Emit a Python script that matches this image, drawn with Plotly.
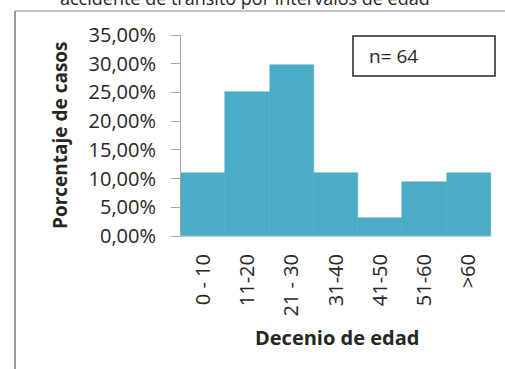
import plotly.graph_objects as go

# Share of cases per age decade (n = 64)
age_groups = ["0 - 10", "11-20", "21 - 30", "31-40", "41-50", "51-60", ">60"]
case_share = [0.1094, 0.25, 0.2969, 0.1094, 0.0313, 0.0938, 0.1094]
sample_label = "n= 64"

FONT = "Open Sans"
W, H = 505, 369
L, R, T, B = 181, 14, 35, 133

fig = go.Figure(
    go.Bar(
        x=age_groups,
        y=case_share,
        marker=dict(color="#4BACC6", line=dict(color="#4BACC6", width=0.5)),
        hoverinfo="x+y",
    )
)

fig.update_layout(
    width=W,
    height=H,
    margin=dict(l=L, r=R, t=T, b=B),
    paper_bgcolor="white",
    plot_bgcolor="white",
    bargap=0,
    separators=",.",
    showlegend=False,
    font=dict(family=FONT, color="#222222"),
)

fig.update_yaxes(
    range=[0, 0.35],
    dtick=0.05,
    tickformat=".2%",
    showgrid=False,
    zeroline=False,
    showline=True,
    linecolor="#a6a6a6",
    linewidth=1,
    ticks="outside",
    ticklen=9,
    tickcolor="#a6a6a6",
    ticklabelstandoff=11,
    tickfont=dict(size=20, family=FONT, color="#262626"),
)

fig.update_xaxes(
    showgrid=False,
    showline=True,
    linecolor="#c8c8c8",
    linewidth=1,
    ticks="",
    tickangle=-90,
    ticklabelstandoff=9,
    tickfont=dict(size=20, family=FONT, color="#262626"),
)

pw, ph = W - L - R, H - T - B


def px_x(x):
    return (x - L) / pw


def px_y(y):
    return (H - B - y) / ph


# Outer chart frame (left and top edges)
fig.add_shape(type="line", xref="paper", yref="paper",
              x0=px_x(15), x1=px_x(W + 5), y0=px_y(11), y1=px_y(11),
              line=dict(color="#8c8c8c", width=1.2))
fig.add_shape(type="line", xref="paper", yref="paper",
              x0=px_x(15), x1=px_x(15), y0=px_y(11), y1=px_y(H + 5),
              line=dict(color="#7f7f7f", width=1.6))

# Sample-size box
fig.add_shape(type="rect", xref="paper", yref="paper",
              x0=px_x(353), x1=px_x(495), y0=px_y(76), y1=px_y(36),
              line=dict(color="#262626", width=1.5), fillcolor="white")

fig.add_annotation(text=sample_label, xref="paper", yref="paper",
                   x=px_x(367), y=px_y(56), xanchor="left", yanchor="middle",
                   showarrow=False, font=dict(size=19, family=FONT, color="#262626"))

# Title (continues above the visible area)
fig.add_annotation(text="accidente de tránsito por intervalos de edad",
                   xref="paper", yref="paper", x=px_x(245), y=px_y(-2),
                   xanchor="center", yanchor="middle", showarrow=False,
                   font=dict(size=18, family=FONT, color="#262626"))

# Axis titles
fig.add_annotation(text="<b>Porcentaje de casos</b>", xref="paper", yref="paper",
                   x=px_x(60), y=px_y(135), textangle=-90,
                   xanchor="center", yanchor="middle", showarrow=False,
                   font=dict(size=19, family=FONT, color="#262626"))
fig.add_annotation(text="<b>Decenio de edad</b>", xref="paper", yref="paper",
                   x=px_x(337), y=px_y(337),
                   xanchor="center", yanchor="middle", showarrow=False,
                   font=dict(size=20, family=FONT, color="#262626"))

fig.write_html("out.html")
